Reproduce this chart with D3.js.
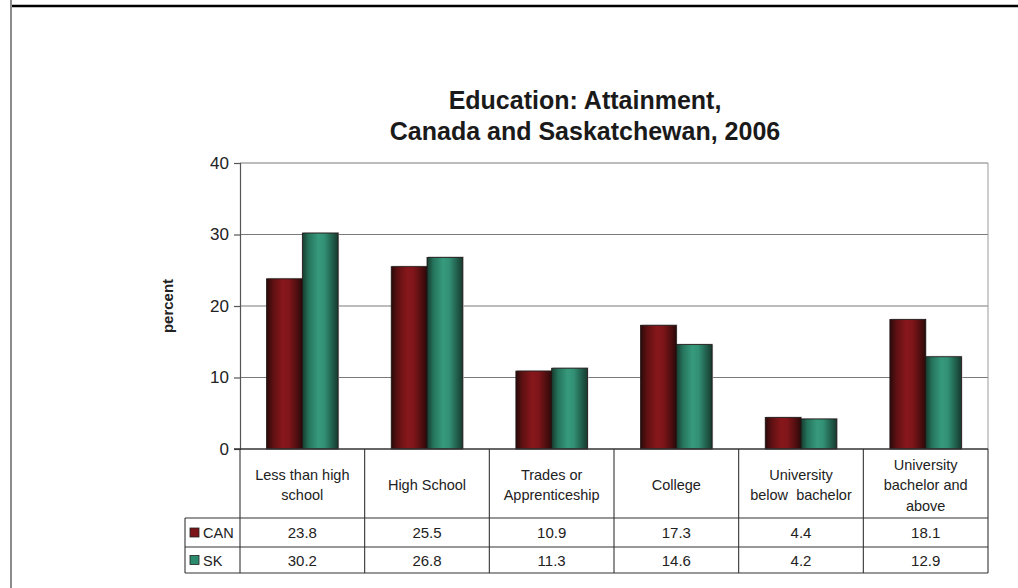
<!DOCTYPE html>
<html>
<head>
<meta charset="utf-8">
<script src="https://cdn.jsdelivr.net/npm/d3@7/dist/d3.min.js"></script>
<style>
  html, body { margin: 0; padding: 0; background: #fff; }
  svg { display: block; font-family: "Liberation Sans", Arial, sans-serif; }
</style>
</head>
<body>
<svg id="chart" width="1018" height="588"></svg>
<script>
// Education attainment, Canada vs Saskatchewan, 2006 (percent)
const categories = [
  ["Less than high", "school"],
  ["High School"],
  ["Trades or", "Apprenticeship"],
  ["College"],
  ["University", "below  bachelor"],
  ["University", "bachelor and", "above"]
];
const seriesNames = ["CAN", "SK"];
const canValues = [23.8, 25.5, 10.9, 17.3, 4.4, 18.1];
const skValues  = [30.2, 26.8, 11.3, 14.6, 4.2, 12.9];
const yTicks = [0, 10, 20, 30, 40];

const svg = d3.select("#chart");

// page frame
svg.append("line").attr("x1", 11).attr("x2", 11).attr("y1", 0).attr("y2", 588)
  .attr("stroke", "#8c8c8c").attr("stroke-width", 2);
svg.append("line").attr("x1", 12).attr("x2", 1018).attr("y1", 6).attr("y2", 6)
  .attr("stroke", "#000").attr("stroke-width", 2.5);

const plot = { left: 240, right: 988, top: 163, bottom: 449 };
const tableRows = { headerBottom: 518, canBottom: 547, skBottom: 573, legendLeft: 185 };

const idx = d3.range(categories.length);
const x = d3.scaleBand().domain(idx).range([plot.left, plot.right]).padding(0);
const xs = d3.scaleBand().domain(seriesNames)
  .range([x.bandwidth() * 0.213, x.bandwidth() * 0.787]).padding(0);
const y = d3.scaleLinear().domain([0, 40]).range([plot.bottom, plot.top]);

// bar gradients
const defs = svg.append("defs");
function grad(id, stops) {
  const g = defs.append("linearGradient").attr("id", id)
    .attr("x1", "0%").attr("x2", "100%").attr("y1", "0%").attr("y2", "0%");
  stops.forEach(s => g.append("stop").attr("offset", s[0]).attr("stop-color", s[1]));
}
grad("gCAN", [["0%", "#2a0a0a"], ["18%", "#5e1012"], ["45%", "#87171b"], ["62%", "#80161a"], ["85%", "#500e10"], ["100%", "#2a0a0a"]]);
grad("gSK", [["0%", "#173a2e"], ["18%", "#25745c"], ["45%", "#379a7c"], ["62%", "#329074"], ["85%", "#205c4a"], ["100%", "#173a2e"]]);
const fills = { CAN: "url(#gCAN)", SK: "url(#gSK)" };
const swatch = { CAN: "#7a1418", SK: "#2e8c6e" };

// title
const titleX = 585;
const title = svg.append("text").attr("x", titleX).attr("text-anchor", "middle")
  .attr("font-weight", "bold").attr("font-size", 25).attr("fill", "#1a1a1a");
title.append("tspan").attr("x", titleX).attr("y", 109).text("Education: Attainment,");
title.append("tspan").attr("x", titleX).attr("y", 140).text("Canada and Saskatchewan, 2006");

// gridlines
svg.append("g").selectAll("line").data(yTicks.filter(t => t > 0)).join("line")
  .attr("x1", plot.left).attr("x2", plot.right)
  .attr("y1", d => y(d)).attr("y2", d => y(d))
  .attr("stroke", "#7a7a7a").attr("stroke-width", 1.2);

// right border of plot
svg.append("line").attr("x1", plot.right).attr("x2", plot.right)
  .attr("y1", plot.top).attr("y2", plot.bottom).attr("stroke", "#9a9a9a").attr("stroke-width", 1);

// y axis
const yAxis = d3.axisLeft(y).tickValues(yTicks).tickSize(6).tickPadding(5);
const ya = svg.append("g").attr("transform", `translate(${plot.left},0)`).call(yAxis);
ya.attr("font-size", 17).attr("font-family", "Liberation Sans, Arial, sans-serif");
ya.select(".domain").attr("stroke", "#555").attr("stroke-width", 1.2);
ya.selectAll(".tick line").attr("stroke", "#555").attr("stroke-width", 1.2);
ya.selectAll(".tick text").attr("fill", "#222");

svg.append("text").attr("transform", `translate(173,${(plot.top + plot.bottom) / 2}) rotate(-90)`)
  .attr("text-anchor", "middle").attr("font-weight", "bold").attr("font-size", 15)
  .attr("fill", "#222").text("percent");

// bars
const rows = idx.map(i => ({ i, CAN: canValues[i], SK: skValues[i] }));
const groups = svg.append("g").selectAll("g").data(rows).join("g")
  .attr("transform", d => `translate(${x(d.i)},0)`);
groups.selectAll("rect.shadow").data(d => seriesNames.map(k => ({ k, v: d[k] }))).join("rect")
  .attr("class", "shadow")
  .attr("x", d => xs(d.k) + 1).attr("y", d => y(d.v) - 1)
  .attr("width", xs.bandwidth()).attr("height", d => y(0) - y(d.v) + 1)
  .attr("fill", "#c8c8c8");
groups.selectAll("rect.bar").data(d => seriesNames.map(k => ({ k, v: d[k] }))).join("rect")
  .attr("class", "bar")
  .attr("x", d => xs(d.k)).attr("y", d => y(d.v))
  .attr("width", xs.bandwidth()).attr("height", d => y(0) - y(d.v))
  .attr("fill", d => fills[d.k]).attr("stroke", "#1e1414").attr("stroke-width", 0.8);

// zero line (axis baseline)
svg.append("line").attr("x1", plot.left - 6).attr("x2", plot.right)
  .attr("y1", y(0)).attr("y2", y(0)).attr("stroke", "#333").attr("stroke-width", 1.5);

// data table
const tbl = svg.append("g").attr("stroke", "#333").attr("stroke-width", 1.1);
const bounds = idx.map(i => x(i)).concat([plot.right]);
tbl.selectAll("line.v").data(bounds).join("line").attr("class", "v")
  .attr("x1", d => d).attr("x2", d => d)
  .attr("y1", plot.bottom).attr("y2", tableRows.skBottom);
tbl.append("line").attr("x1", tableRows.legendLeft).attr("x2", tableRows.legendLeft)
  .attr("y1", tableRows.headerBottom).attr("y2", tableRows.skBottom);
[tableRows.headerBottom, tableRows.canBottom, tableRows.skBottom].forEach(yy => {
  tbl.append("line").attr("x1", tableRows.legendLeft).attr("x2", plot.right)
    .attr("y1", yy).attr("y2", yy);
});

// header labels
const headerMid = (plot.bottom + tableRows.headerBottom) / 2;
const lineH = 20.5;
const hdr = svg.append("g").attr("font-size", 14.5).attr("fill", "#222").attr("text-anchor", "middle");
categories.forEach((lines, i) => {
  const cx = x(i) + x.bandwidth() / 2;
  const t = hdr.append("text").attr("fill", "#222");
  lines.forEach((ln, j) => {
    t.append("tspan").attr("x", cx)
      .attr("y", headerMid + (j - (lines.length - 1) / 2) * lineH + 6.5)
      .attr("xml:space", "preserve").text(ln);
  });
});

// value rows with legend keys
const rowDefs = [
  { k: "CAN", vals: canValues, top: tableRows.headerBottom, bottom: tableRows.canBottom },
  { k: "SK", vals: skValues, top: tableRows.canBottom, bottom: tableRows.skBottom }
];
rowDefs.forEach(r => {
  const mid = (r.top + r.bottom) / 2;
  svg.append("rect").attr("x", tableRows.legendLeft + 5).attr("y", mid - 4.5)
    .attr("width", 9).attr("height", 9).attr("fill", swatch[r.k])
    .attr("stroke", "#222").attr("stroke-width", 0.8);
  svg.append("text").attr("x", tableRows.legendLeft + 18).attr("y", mid + 5.5)
    .attr("font-size", 14.5).attr("fill", "#222").text(r.k);
  r.vals.forEach((v, i) => {
    svg.append("text").attr("x", x(i) + x.bandwidth() / 2).attr("y", mid + 5.5)
      .attr("text-anchor", "middle").attr("font-size", 15).attr("fill", "#222")
      .text(d3.format(".1f")(v));
  });
});
</script>
</body>
</html>
